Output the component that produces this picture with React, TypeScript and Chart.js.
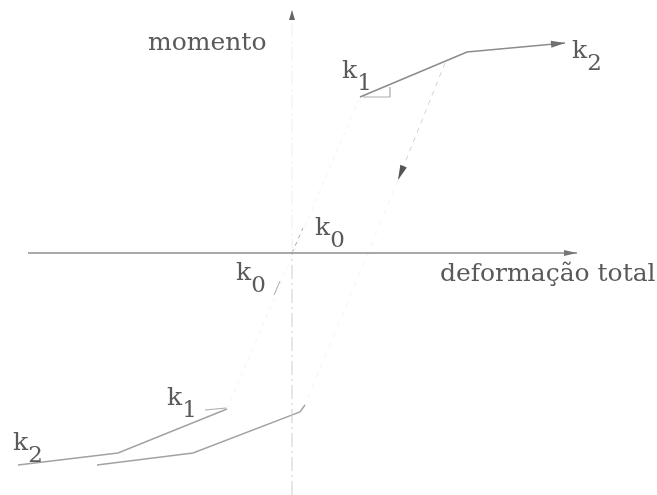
import React, { useEffect, useRef } from "react";
import { Chart, registerables } from "chart.js";

Chart.register(...registerables);

// Moment vs. total deformation, origin at (0, 0), arbitrary units.
const axisDeformation = [-264, 285];
const axisMomentBelow = [-242, 0];
const axisMomentAbove = [0, 243];

// Initial stiffness k0 line through the origin
const elasticDeformation = [-65, 68];
const elasticMoment = [-156, 156];
const elasticUpperDeformation = [0, 11];
const elasticUpperMoment = [0, 25];
const elasticLowerDeformation = [-12, -18];
const elasticLowerMoment = [-28, -42];

// Positive loading branch (k1 then k2)
const loadUpDeformation = [68, 175, 273];
const loadUpMoment = [156, 201, 210];

// Negative loading branch (k1 then k2)
const loadDownDeformation = [-65, -174, -274];
const loadDownMoment = [-156, -200, -212];

// Unloading from the positive branch and reloading into the negative one
const unloadDeformation = [153, 106, 13];
const unloadMoment = [190, 73, -152];
const reloadDeformation = [13, 8, -99, -195];
const reloadMoment = [-152, -159, -200, -212];

// Small slope markers next to k1
const slopeUpDeformation = [71, 98, 98];
const slopeUpMoment = [156, 156, 166];
const slopeDownDeformation = [-87, -66];
const slopeDownMoment = [-157, -155];

const zip = (xs: number[], ys: number[]) => xs.map((x, i) => ({ x, y: ys[i] }));

type Label = { text: string; sub?: string; x: number; y: number };
const labels: Label[] = [
  { text: "momento", x: -144, y: 203 },
  { text: "deformação total", x: 148, y: -28 },
  { text: "k", sub: "1", x: 50, y: 175 },
  { text: "k", sub: "2", x: 280, y: 195 },
  { text: "k", sub: "0", x: 23, y: 18 },
  { text: "k", sub: "0", x: -56, y: -27 },
  { text: "k", sub: "1", x: -125, y: -152 },
  { text: "k", sub: "2", x: -279, y: -197 },
];

const FONT = '25px "DejaVu Serif"';
const SUB_FONT = '23px "DejaVu Serif"';
const TEXT_COLOR = "#5a5a5a";

const arrowPlugin = {
  id: "arrowHeads",
  afterDatasetsDraw(chart: any) {
    const ctx = chart.ctx;
    chart.data.datasets.forEach((ds: any, i: number) => {
      if (!ds.arrow) return;
      const pts = chart.getDatasetMeta(i).data;
      const a = pts[pts.length - 2];
      const b = pts[pts.length - 1];
      const ang = Math.atan2(b.y - a.y, b.x - a.x);
      const { length, width, color } = ds.arrow;
      ctx.save();
      ctx.translate(b.x, b.y);
      ctx.rotate(ang);
      ctx.beginPath();
      ctx.moveTo(0, 0);
      ctx.lineTo(-length, width);
      ctx.lineTo(-length, -width);
      ctx.closePath();
      ctx.fillStyle = color;
      ctx.fill();
      ctx.restore();
    });
  },
};

const labelPlugin = {
  id: "diagramLabels",
  afterDraw(chart: any) {
    const ctx = chart.ctx;
    const sx = chart.scales.x;
    const sy = chart.scales.y;
    ctx.save();
    ctx.fillStyle = TEXT_COLOR;
    ctx.textBaseline = "alphabetic";
    ctx.textAlign = "left";
    labels.forEach((l) => {
      const px = sx.getPixelForValue(l.x);
      const py = sy.getPixelForValue(l.y);
      ctx.font = FONT;
      ctx.fillText(l.text, px, py);
      if (l.sub) {
        const w = ctx.measureText(l.text).width;
        ctx.font = SUB_FONT;
        ctx.fillText(l.sub, px + w, py + 12);
      }
    });
    ctx.restore();
  },
};

const line = (data: { x: number; y: number }[], color: string, width: number, dash: number[] = [], extra: any = {}) => ({
  data,
  showLine: true,
  borderColor: color,
  borderWidth: width,
  borderDash: dash,
  pointRadius: 0,
  fill: false,
  tension: 0,
  ...extra,
});

export default function App() {
  const ref = useRef<HTMLCanvasElement>(null);

  useEffect(() => {
    if (!ref.current) return;
    const chart = new Chart(ref.current, {
      type: "scatter",
      data: {
        datasets: [
          // horizontal axis
          line(zip(axisDeformation, [0, 0]), "#8c8c8c", 1.5, [], { arrow: { length: 13, width: 3, color: "#777" } }),
          // vertical axis
          line(zip([0, 0], axisMomentBelow), "#cdcdcd", 1, [14, 4, 2, 4]),
          line(zip([0, 0], axisMomentAbove), "#eeeeee", 1, [14, 4, 2, 4], { arrow: { length: 10, width: 3, color: "#666" } }),
          // k0 line
          line(zip(elasticDeformation, elasticMoment), "#f3f3f3", 1, [4, 5]),
          line(zip(elasticUpperDeformation, elasticUpperMoment), "#a8a8a8", 1, [4, 4]),
          line(zip(elasticLowerDeformation, elasticLowerMoment), "#a8a8a8", 1),
          // loading branches
          line(zip(loadUpDeformation, loadUpMoment), "#8c8c8c", 1.6, [], { arrow: { length: 14, width: 3.5, color: "#707070" } }),
          line(zip(slopeUpDeformation, slopeUpMoment), "#ababab", 1.2),
          line(zip(loadDownDeformation, loadDownMoment), "#a2a2a2", 1.4),
          line(zip(slopeDownDeformation, slopeDownMoment), "#ababab", 1.2),
          // unloading and reloading
          line(zip(unloadDeformation.slice(0, 2), unloadMoment.slice(0, 2)), "#d2d2d2", 1, [5, 5], { arrow: { length: 15, width: 3.5, color: "#555" } }),
          line(zip(unloadDeformation.slice(1), unloadMoment.slice(1)), "#f3f3f3", 1, [5, 6]),
          line(zip(reloadDeformation, reloadMoment), "#a2a2a2", 1.4),
        ],
      },
      options: {
        responsive: false,
        animation: false,
        layout: { padding: 0 },
        scales: {
          x: { type: "linear", min: -292, max: 365, display: false },
          y: { type: "linear", min: -242, max: 253, display: false },
        },
        plugins: {
          legend: { display: false },
          tooltip: { enabled: false },
        },
      },
      plugins: [arrowPlugin, labelPlugin],
    } as any);
    return () => chart.destroy();
  }, []);

  return (
    <div style={{ position: "absolute", left: 0, top: 0, width: 657, height: 495, background: "#fff" }}>
      <canvas ref={ref} width={657} height={495} style={{ display: "block" }} />
    </div>
  );
}
